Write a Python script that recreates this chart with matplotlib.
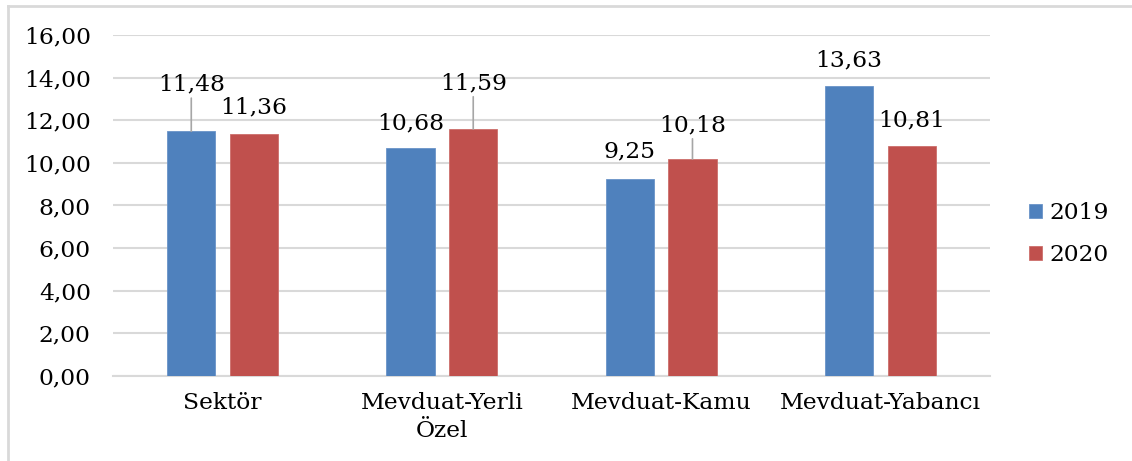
import matplotlib
matplotlib.use("Agg")
import matplotlib.pyplot as plt
from matplotlib.lines import Line2D
import numpy as np

categories = ["Sektör", "Mevduat-Yerli\nÖzel", "Mevduat-Kamu", "Mevduat-Yabancı"]
series_names = ["2019", "2020"]
values_2019 = [11.48, 10.68, 9.25, 13.63]
values_2020 = [11.36, 11.59, 10.18, 10.81]
yticks = [0, 2, 4, 6, 8, 10, 12, 14, 16]

def fmt(v):
    return f"{v:.2f}".replace(".", ",")

plt.rcParams['font.family'] = ['DejaVu Serif']
FS = 16.8

fig = plt.figure(figsize=(11.32, 4.61), dpi=100)
ax = fig.add_axes([113/1132, 1-376/461, (990-113)/1132, (376-35)/461])

x = np.arange(len(categories))
w = 0.22
off = 0.143
blue = "#4F81BD"
red = "#C0504D"
b1 = ax.bar(x - off, values_2019, w, color=blue, edgecolor="#6A93C8", linewidth=0.6, zorder=3, label=series_names[0])
b2 = ax.bar(x + off, values_2020, w, color=red, edgecolor="#CC6E6B", linewidth=0.6, zorder=3, label=series_names[1])

ax.set_xlim(-0.5, len(categories) - 0.5)
ax.set_ylim(0, 16)
ax.set_yticks(yticks)
ax.set_yticklabels([fmt(t) for t in yticks], fontsize=FS)
ax.set_xticks(x)
ax.set_xticklabels(categories, fontsize=FS, linespacing=1.35)
ax.tick_params(axis='both', length=0)
ax.tick_params(axis='y', pad=16)
ax.tick_params(axis='x', pad=11.5)
ax.grid(axis='y', color="#D9D9D9", linewidth=1.5, zorder=0)
for s in ["top", "right", "left"]:
    ax.spines[s].set_visible(False)
ax.spines["bottom"].set_color("#D9D9D9")
ax.spines["bottom"].set_linewidth(1.5)

# label offsets (pixels above bar top to text center) — layout only
offs_2019 = [47, 25, 27, 25]
offs_2020 = [26, 46, 34, 25.5]

for bars, vals, offs in ((b1, values_2019, offs_2019), (b2, values_2020, offs_2020)):
    for rect, v, o in zip(bars, vals, offs):
        cx = rect.get_x() + rect.get_width() / 2
        kw = {}
        if o > 30:
            kw["arrowprops"] = dict(arrowstyle='-', color="#A6A6A6", lw=1.2, shrinkA=0, shrinkB=0)
        ax.annotate(fmt(v), xy=(cx, v), xytext=(0, o), textcoords='offset pixels',
                    ha='center', va='center', fontsize=FS, color="#000000", zorder=5, **kw)

leg = fig.legend(handles=[b1, b2], labels=series_names, loc='center left',
                 bbox_to_anchor=(1020/1132, 1-234/461), frameon=False, fontsize=FS,
                 handlelength=0.55, handleheight=0.55, handletextpad=0.3, labelspacing=0.85,
                 borderaxespad=0)

# chart-area border (left and top)
fig.add_artist(Line2D([8/1132, 8/1132], [0, 1-6/461], color="#D9D9D9", lw=2, transform=fig.transFigure))
fig.add_artist(Line2D([8/1132, 1131/1132], [1-6/461, 1-6/461], color="#D9D9D9", lw=2, transform=fig.transFigure))

fig.savefig("out.png", dpi=100)
